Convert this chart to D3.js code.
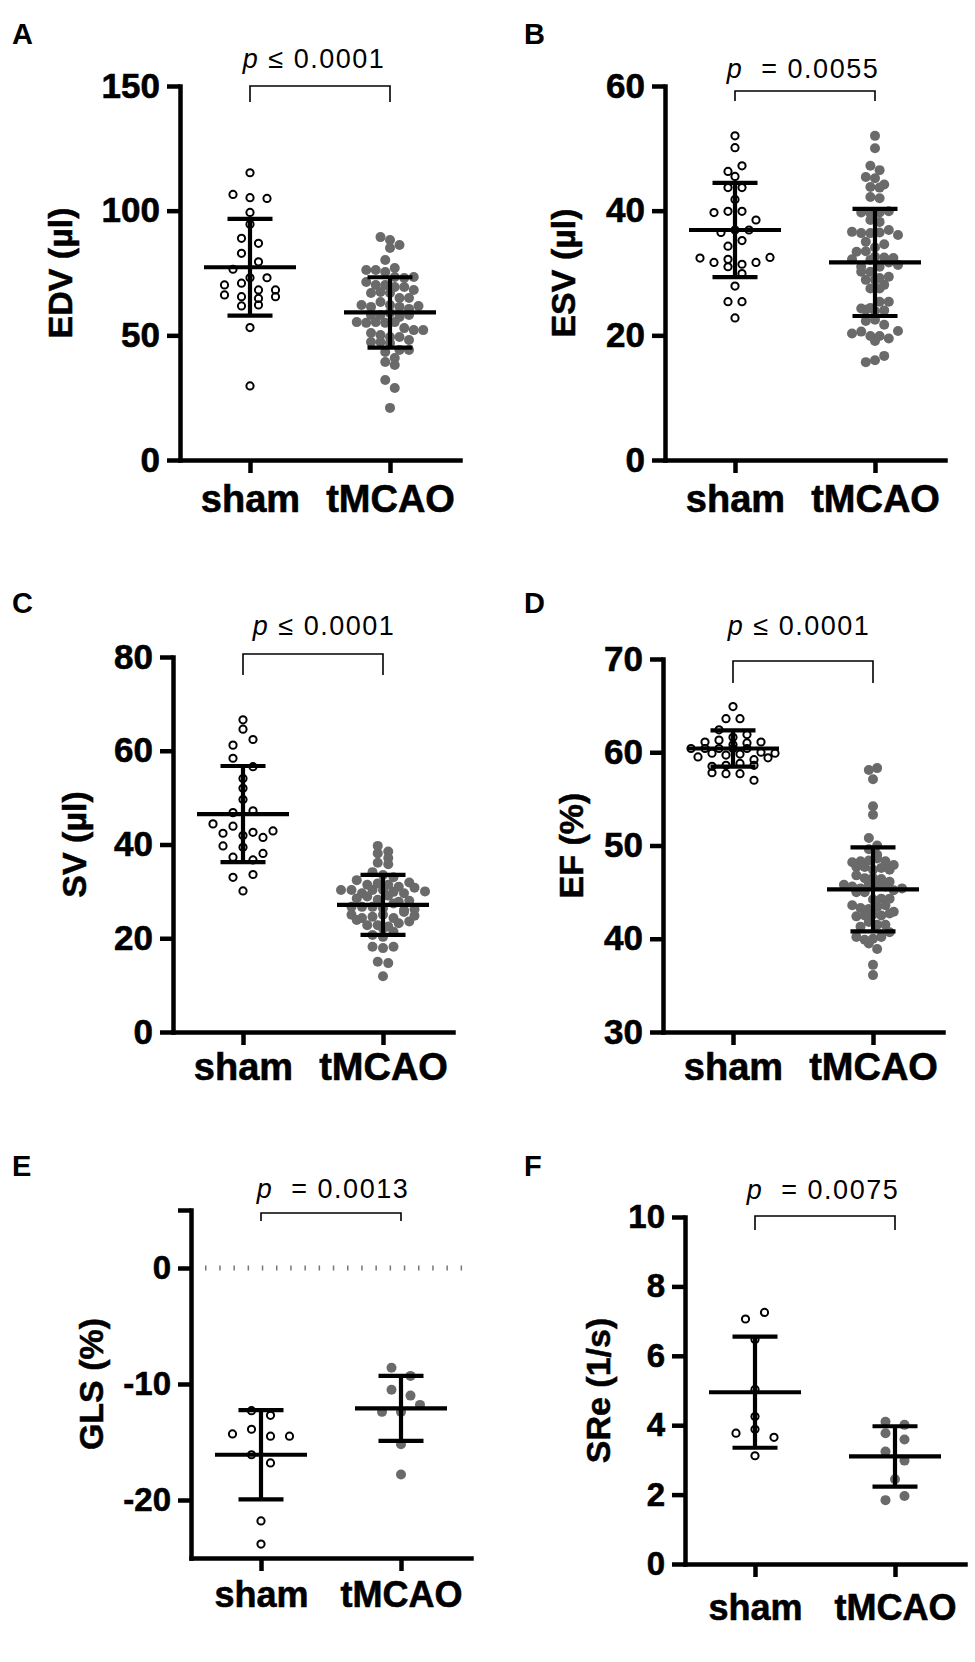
<!DOCTYPE html>
<html>
<head>
<meta charset="utf-8">
<script src="https://cdn.jsdelivr.net/npm/d3@7"></script>
<style>
  body { margin: 0; background: #fff; }
  svg { display: block; }
</style>
</head>
<body>
<svg id="fig" width="975" height="1662"></svg>
<script>
// Grupos
var groups = ["sham", "tMCAO"];

// Datos (orden de lectura: arriba-abajo, izquierda-derecha)
var edvSham = [115.2, 106.5, 105.2, 104.9, 99.3, 94.6, 88.9, 86.9, 82.9, 79.5, 76.5, 73.1, 73.1, 70.2, 70.9,
  66.2, 68.2, 68.2, 65.5, 64.8, 65.5, 61.8, 62.2, 53.1, 29.7];
var edvTmcao = [89.4, 88.2, 86.2, 85.0, 80.2, 77.0, 76.2, 76.2, 75.4, 73.4, 73.0, 73.4, 71.4, 70.2, 70.2,
  69.4, 69.4, 67.0, 67.4, 67.0, 68.2, 65.0, 65.0, 62.2, 61.4, 63.4, 62.2, 61.4, 60.6, 61.8, 58.2, 58.2,
  59.0, 57.4, 58.2, 55.3, 55.0, 55.3, 55.0, 55.3, 52.9, 52.1, 52.1, 50.9, 50.1, 49.3, 49.3, 47.3, 48.1,
  47.3, 46.9, 43.3, 44.1, 44.1, 40.9, 39.3, 38.1, 32.1, 28.9, 20.9];
var edvMean = [77.3, 59.2];
var edvSd = [19.4, 14.1];

var esvSham = [52.0, 50.1, 46.3, 47.2, 45.5, 43.7, 43.7, 41.8, 39.7, 39.9, 39.9, 38.5, 36.5, 36.9, 36.9,
  34.3, 35.2, 32.4, 31.7, 32.2, 31.4, 31.0, 31.7, 32.5, 29.9, 27.9, 25.4, 25.4, 22.8];
var esvTmcao = [52.0, 50.0, 47.2, 46.5, 45.4, 45.2, 43.8, 44.2, 43.7, 42.2, 42.0, 39.7, 39.6, 39.7, 39.9,
  38.5, 38.2, 36.6, 36.4, 36.4, 36.5, 36.9, 36.1, 35.0, 33.4, 34.1, 34.6, 33.5, 32.6, 32.2, 32.5, 32.4,
  31.0, 32.1, 31.0, 31.7, 31.3, 30.2, 30.2, 29.2, 28.9, 29.4, 28.9, 28.1, 27.5, 27.5, 24.3, 24.1, 24.4,
  25.4, 25.4, 23.9, 24.0, 22.3, 22.5, 21.7, 20.3, 20.6, 19.9, 19.9, 19.5, 20.7, 19.1, 15.7, 16.0, 16.7];
var esvMean = [36.9, 31.7];
var esvSd = [7.55, 8.6];

var svSham = [66.6, 64.6, 61.2, 62.4, 58.4, 56.6, 54.1, 52.0, 49.6, 46.8, 47.2, 42.4, 44.4, 43.9, 42.6,
  42.9, 41.9, 41.5, 39.7, 39.4, 37.3, 36.7, 38.1, 33.0, 33.6, 30.1];
var svTmcao = [39.7, 38.5, 38.1, 37.1, 36.1, 35.8, 34.1, 32.4, 33.5, 31.4, 31.7, 31.4, 30.3, 30.3, 29.6,
  31.0, 30.3, 30.3, 29.9, 29.6, 28.5, 28.9, 28.2, 26.7, 26.7, 26.7, 26.4, 25.0, 24.3, 24.6, 25.0, 24.3,
  23.9, 22.8, 22.8, 22.5, 23.2, 20.3, 20.7, 18.2, 17.9, 18.2, 15.0, 14.7, 11.9, 31.9, 30.8, 29.1, 27.8,
  27.4, 26.0, 25.6, 24.8, 23.6, 22.1, 21.4, 28.0, 30.0, 26.2, 33.0];
var svMean = [46.5, 27.1];
var svSd = [10.25, 6.4];

var efSham = [64.9, 63.6, 63.6, 62.4, 61.6, 61.1, 61.3, 61.9, 60.8, 61.0, 61.1, 60.4, 60.4, 60.4, 60.4,
  60.4, 59.5, 60.0, 59.9, 59.9, 59.7, 59.8, 59.2, 59.4, 58.5, 58.6, 58.8, 58.6, 57.8, 57.7, 57.7, 57.0];
var efTmcao = [58.1, 58.3, 57.1, 53.3, 54.2, 50.8, 50.0, 49.6, 49.0, 48.2, 48.3, 47.7, 48.4, 48.6, 48.3,
  47.9, 47.7, 47.4, 47.6, 47.4, 46.8, 46.5, 46.5, 46.4, 45.8, 45.0, 45.6, 45.4, 45.9, 46.1, 45.8, 45.6,
  45.2, 45.0, 45.4, 43.6, 43.3, 43.2, 44.2, 44.3, 44.3, 43.4, 43.6, 42.4, 42.9, 42.5, 42.6, 42.5, 42.7,
  41.3, 41.8, 41.5, 41.5, 40.2, 39.9, 40.0, 40.2, 40.7, 39.5, 38.9, 37.2, 36.1];
var efMean = [60.4, 45.3];
var efSd = [1.95, 4.5];

var glsSham = [-12.3, -12.7, -14.3, -13.9, -14.5, -14.5, -16.1, -16.8, -21.8, -23.8];
var glsTmcao = [-8.6, -9.3, -10.5, -11.0, -12.4, -12.4, -11.8, -15.2, -17.8];
var glsMean = [-16.1, -12.1];
var glsSd = [3.85, 2.8];

var sreSham = [7.06, 7.25, 6.47, 5.03, 4.25, 3.77, 3.88, 3.65, 3.12];
var sreTmcao = [4.10, 4.01, 3.77, 3.59, 3.24, 2.98, 2.44, 1.84, 1.96];
var sreMean = [4.95, 3.1];
var sreSd = [1.6, 0.87];

// Textos
var panelLetters = ["A", "B", "C", "D", "E", "F"];
var yTitles = ["EDV (µl)", "ESV (µl)", "SV (µl)", "EF (%)", "GLS (%)", "SRe (1/s)"];
var pOps = ["≤", "\u00a0=", "≤", "≤", "\u00a0=", "\u00a0="];
var pValues = ["0.0001", "0.0055", "0.0001", "0.0001", "0.0013", "0.0075"];
var yTickValues = [[0, 50, 100, 150], [0, 20, 40, 60], [0, 20, 40, 60, 80], [30, 40, 50, 60, 70],
  [-20, -10, 0, 5], [0, 2, 4, 6, 8, 10]];
var yDomains = [[0, 150], [0, 60], [0, 80], [30, 70], [-25, 5], [0, 10]];

var FONT = '"Liberation Sans", Arial, Helvetica, sans-serif';
var GRAY = "#6a6a6a";

// Posiciones de cada panel
var panels = [
  { sham: edvSham, tm: edvTmcao, mean: edvMean, sd: edvSd, x0: 180, yTop: 86, yBot: 460,
    brY: 86, brLeg: 16, pY: 68, pDx: -6, titleX: 72, lx: 12, ly: 44, labY: 512, tickFs: 35, labFs: 38,
    sp: [17, 9.5], rowH: [9, 8], maxRow: [7, 10] },
  { sham: esvSham, tm: esvTmcao, mean: esvMean, sd: esvSd, x0: 665, yTop: 86, yBot: 460,
    brY: 91, brLeg: 10, pY: 78, pDx: -2, titleX: 575, lx: 524, ly: 44, labY: 512, tickFs: 35, labFs: 38,
    sp: [14, 9.2], rowH: [9, 8], maxRow: [7, 10] },
  { sham: svSham, tm: svTmcao, mean: svMean, sd: svSd, x0: 173, yTop: 657, yBot: 1032,
    brY: 654, brLeg: 21, pY: 635, pDx: 11, titleX: 86, lx: 12, ly: 613, labY: 1080, tickFs: 35, labFs: 38,
    sp: [20, 10.5], rowH: [9, 7], maxRow: [5, 9] },
  { sham: efSham, tm: efTmcao, mean: efMean, sd: efSd, x0: 663, yTop: 659, yBot: 1032,
    brY: 661, brLeg: 22, pY: 635, pDx: -4, titleX: 583, lx: 524, ly: 613, labY: 1080, tickFs: 35, labFs: 38,
    sp: [14, 8.3], rowH: [8, 8], maxRow: [7, 11] },
  { sham: glsSham, tm: glsTmcao, mean: glsMean, sd: glsSd, x0: 191, yTop: 1210, yBot: 1558,
    brY: 1213, brLeg: 8, pY: 1198, pDx: 2, titleX: 103, lx: 12, ly: 1176, labY: 1607, tickFs: 33, labFs: 36,
    sp: [19, 19], rowH: [10, 10], maxRow: [5, 5], hide: [5], zeroLine: true },
  { sham: sreSham, tm: sreTmcao, mean: sreMean, sd: sreSd, x0: 685, yTop: 1217, yBot: 1564,
    brY: 1216, brLeg: 14, pY: 1199, pDx: -2, titleX: 610, lx: 524, ly: 1176, labY: 1620, tickFs: 33, labFs: 36,
    sp: [19, 19], rowH: [10, 10], maxRow: [5, 5] }
];

var svg = d3.select("#fig").attr("font-family", FONT);

panels.forEach(function (p, i) {
  drawPanel(p, i);
});

/**
 * Distribuye los puntos en filas horizontales (estilo scatter de GraphPad)
 */
function swarm(vals, y, cx, rowH, spacing, maxRow) {
  var pts = vals.map(function (v, i) { return { v: v, i: i, py: y(v) }; });
  var sorted = pts.slice().sort(function (a, b) { return a.py - b.py; });
  var rows = [], cur = null;
  sorted.forEach(function (pt) {
    if (cur && pt.py - cur[0].py < rowH && cur.length < maxRow) cur.push(pt);
    else { cur = [pt]; rows.push(cur); }
  });
  rows.forEach(function (r) {
    r.sort(function (a, b) { return a.i - b.i; });
    r.forEach(function (pt, k) { pt.px = cx + (k - (r.length - 1) / 2) * spacing; });
  });
  return pts;
}

function drawPanel(p, idx) {
  var g = svg.append("g");
  var hide = p.hide || [];

  var x = d3.scalePoint().domain(groups).range([p.x0, p.x0 + 280]).padding(0.5);
  var y = d3.scaleLinear().domain(yDomains[idx]).range([p.yBot, p.yTop]);

  // Linea punteada en cero
  if (p.zeroLine) {
    g.append("line")
      .attr("x1", p.x0 + 14).attr("x2", p.x0 + 280)
      .attr("y1", y(0)).attr("y2", y(0))
      .attr("stroke", "#777").attr("stroke-width", 5)
      .attr("stroke-dasharray", "1.5 12.7");
  }

  // Ejes
  var ya = g.append("g").attr("transform", "translate(" + p.x0 + ",0)")
    .call(d3.axisLeft(y).tickValues(yTickValues[idx]).tickSize(13).tickSizeOuter(0).tickPadding(7)
      .tickFormat(function (d) { return hide.indexOf(d) >= 0 ? "" : String(d); }));
  var xa = g.append("g").attr("transform", "translate(0," + p.yBot + ")")
    .call(d3.axisBottom(x).tickSize(13).tickSizeOuter(0));

  [ya, xa].forEach(function (a) {
    a.attr("font-family", FONT);
    a.select(".domain").attr("stroke-width", 4.5).attr("stroke-linecap", "square");
    a.selectAll(".tick line").attr("stroke-width", 4.5);
  });
  ya.selectAll("text").attr("font-size", p.tickFs).attr("font-weight", "bold").attr("fill", "#000")
    .attr("stroke", "#000").attr("stroke-width", 0.6);
  xa.selectAll("text").attr("font-size", p.labFs).attr("font-weight", "bold").attr("fill", "#000")
    .attr("stroke", "#000").attr("stroke-width", 0.6)
    .attr("y", p.labY - p.yBot).attr("dy", 0);

  // Titulo eje y
  g.append("text")
    .attr("transform", "translate(" + p.titleX + "," + ((p.yTop + p.yBot) / 2) + ") rotate(-90)")
    .attr("text-anchor", "middle")
    .attr("font-size", 34).attr("font-weight", "bold")
    .attr("stroke", "#000").attr("stroke-width", 0.5)
    .text(yTitles[idx]);

  // Letra del panel
  g.append("text").attr("x", p.lx).attr("y", p.ly)
    .attr("font-size", 29).attr("font-weight", "bold")
    .text(panelLetters[idx]);

  // Puntos
  var ptsSham = swarm(p.sham, y, x("sham"), p.rowH[0], p.sp[0], p.maxRow[0]);
  var ptsTm = swarm(p.tm, y, x("tMCAO"), p.rowH[1], p.sp[1], p.maxRow[1]);

  g.append("g").selectAll("circle").data(ptsTm).enter().append("circle")
    .attr("cx", function (d) { return d.px; })
    .attr("cy", function (d) { return d.py; })
    .attr("r", 5)
    .attr("fill", GRAY);

  g.append("g").selectAll("circle").data(ptsSham).enter().append("circle")
    .attr("cx", function (d) { return d.px; })
    .attr("cy", function (d) { return d.py; })
    .attr("r", 3.6)
    .attr("fill", "none").attr("stroke", "#000").attr("stroke-width", 2);

  // Media +- DE
  var eb = g.append("g").attr("stroke", "#000").attr("stroke-width", 4.2);
  groups.forEach(function (gr, k) {
    var cx = x(gr), m = p.mean[k], s = p.sd[k];
    eb.append("line").attr("x1", cx).attr("x2", cx).attr("y1", y(m + s)).attr("y2", y(m - s));
    eb.append("line").attr("x1", cx - 46).attr("x2", cx + 46).attr("y1", y(m)).attr("y2", y(m));
    eb.append("line").attr("x1", cx - 22.5).attr("x2", cx + 22.5).attr("y1", y(m + s)).attr("y2", y(m + s));
    eb.append("line").attr("x1", cx - 22.5).attr("x2", cx + 22.5).attr("y1", y(m - s)).attr("y2", y(m - s));
  });

  // Corchete y valor p
  var bx1 = x("sham"), bx2 = x("tMCAO");
  g.append("path")
    .attr("d", "M" + bx1 + "," + (p.brY + p.brLeg) + "V" + p.brY + "H" + bx2 + "V" + (p.brY + p.brLeg))
    .attr("fill", "none").attr("stroke", "#000").attr("stroke-width", 1.6);

  var pt = g.append("text")
    .attr("x", (bx1 + bx2) / 2 + p.pDx).attr("y", p.pY)
    .attr("text-anchor", "middle")
    .attr("font-size", 27).attr("letter-spacing", 1.5);
  pt.append("tspan").attr("font-style", "italic").text("p");
  pt.append("tspan").text("\u00a0" + pOps[idx] + "\u00a0" + pValues[idx]);
}
</script>
</body>
</html>
